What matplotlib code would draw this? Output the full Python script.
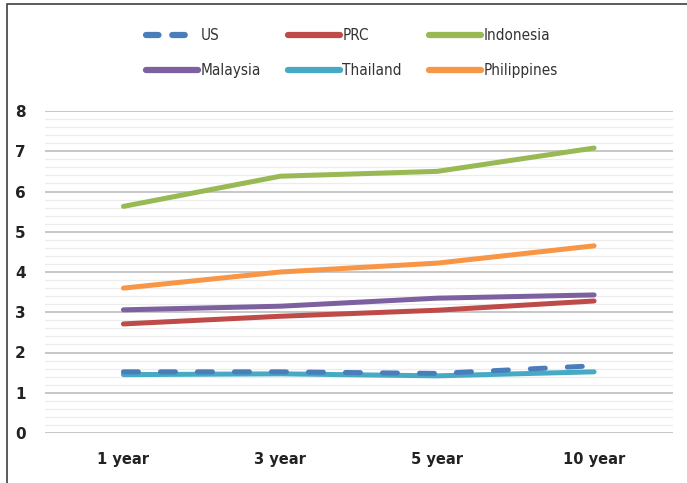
import matplotlib.pyplot as plt
import numpy as np
from matplotlib.patches import Rectangle

# Data
categories = ['1 year', '3 year', '5 year', '10 year']
us = [1.52, 1.52, 1.48, 1.67]
prc = [2.71, 2.90, 3.05, 3.28]
indonesia = [5.63, 6.38, 6.50, 7.08]
malaysia = [3.06, 3.15, 3.35, 3.43]
thailand = [1.45, 1.47, 1.42, 1.52]
philippines = [3.60, 4.00, 4.22, 4.65]

W, H = 687, 483
fig = plt.figure(figsize=(W / 100, H / 100), dpi=100)

# outer frame
fig.add_artist(Rectangle((7 / W, -0.01), 1.0, 1 - 4 / H + 0.01,
                         transform=fig.transFigure, fill=False,
                         edgecolor='#404040', linewidth=1.2))

ax = fig.add_axes([45 / W, (H - 433) / H, (672.5 - 45) / W, 322 / H])
x = np.arange(len(categories))

ax.set_ylim(0, 8)
ax.set_xlim(-0.5, len(categories) - 0.5)
for v in np.arange(0.2, 8.0, 0.2):
    if abs(v - round(v)) > 1e-6:
        ax.axhline(v, color='#ececec', linewidth=0.9, zorder=0)
for v in range(0, 9):
    ax.axhline(v, color='#bdbdbd', linewidth=1.2, zorder=0)

lw = 3.6
l_us, = ax.plot(x, us, color='#4a7ebb', linewidth=lw, dashes=(3.0, 4.4),
                dash_capstyle='round', label='US', zorder=3)
l_prc, = ax.plot(x, prc, color='#be4b48', linewidth=lw, solid_capstyle='round', label='PRC')
l_ind, = ax.plot(x, indonesia, color='#98b954', linewidth=lw, solid_capstyle='round', label='Indonesia')
l_mal, = ax.plot(x, malaysia, color='#7d60a0', linewidth=lw, solid_capstyle='round', label='Malaysia')
l_tha, = ax.plot(x, thailand, color='#46aac5', linewidth=lw, solid_capstyle='round',
                 label='Thailand', zorder=2)
l_phi, = ax.plot(x, philippines, color='#f79646', linewidth=lw, solid_capstyle='round',
                 label='Philippines')

ax.set_xticks(x)
ax.set_xticklabels(categories, fontsize=10.5, fontweight='bold', color='#222222')
ax.set_yticks(range(0, 9))
ax.set_yticklabels([str(v) for v in range(0, 9)], fontsize=11, fontweight='bold', color='#222222')
ax.tick_params(axis='both', length=0)
ax.tick_params(axis='x', pad=14)
ax.tick_params(axis='y', pad=14)
for s in ax.spines.values():
    s.set_visible(False)

# legend filled row by row: US PRC Indonesia / Malaysia Thailand Philippines
handles = [l_us, l_mal, l_prc, l_tha, l_ind, l_phi]
leg = fig.legend(handles=handles, labels=[h.get_label() for h in handles],
                 loc='center', bbox_to_anchor=(352 / W, 1 - 53 / H), ncol=3,
                 frameon=False, handlelength=3.4, columnspacing=1.8,
                 handletextpad=0.15, labelspacing=1.3,
                 prop={'family': 'DejaVu Sans', 'stretch': 'condensed', 'size': 11})
for t in leg.get_texts():
    t.set_color('#333333')
for h in leg.get_lines():
    h.set_linewidth(4.5)
leg.get_lines()[0].set_dashes((2.0, 2.2))

fig.savefig('out.png', dpi=100, facecolor='white')
